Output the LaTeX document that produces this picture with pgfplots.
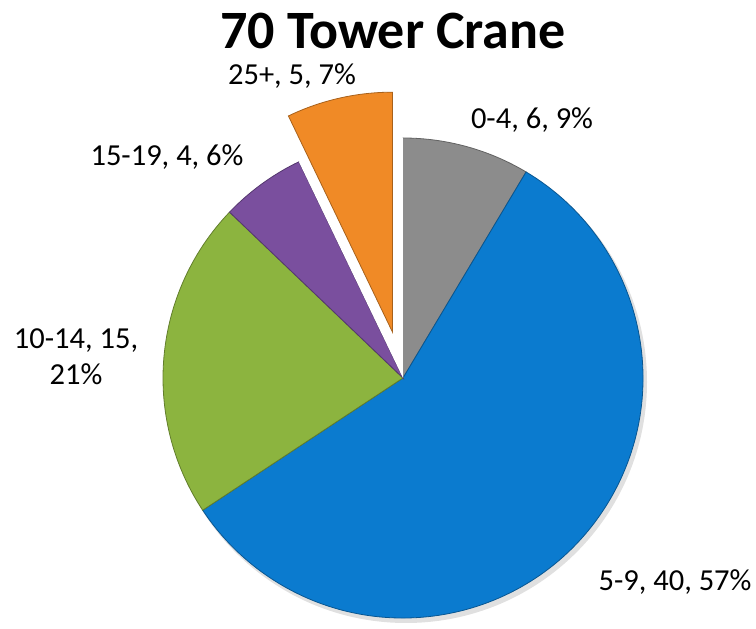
\documentclass[border=0pt]{standalone}
\usepackage{pgfplots}
\usepackage{pgfplotstable}
\pgfplotsset{compat=1.18}
\usepackage{fontspec}
\setmainfont{Carlito}
\definecolor{cGray}{HTML}{8C8C8C}
\definecolor{cBlue}{HTML}{0B7BCF}
\definecolor{cGreen}{HTML}{8CB43F}
\definecolor{cPurple}{HTML}{7A4F9E}
\definecolor{cOrange}{HTML}{F08A26}
\pgfplotstableread{
Label Value
a 6
b 40
c 15
d 4
e 5
}\piedata
\pgfplotstablegetelem{0}{Value}\of\piedata \let\vA\pgfplotsretval
\pgfplotstablegetelem{1}{Value}\of\piedata \let\vB\pgfplotsretval
\pgfplotstablegetelem{2}{Value}\of\piedata \let\vC\pgfplotsretval
\pgfplotstablegetelem{3}{Value}\of\piedata \let\vD\pgfplotsretval
\pgfplotstablegetelem{4}{Value}\of\piedata \let\vE\pgfplotsretval
\pgfmathsetmacro\tot{\vA+\vB+\vC+\vD+\vE}
\pgfmathsetmacro\aA{90}
\pgfmathsetmacro\aB{\aA-360*\vA/\tot}
\pgfmathsetmacro\aC{\aB-360*\vB/\tot}
\pgfmathsetmacro\aD{\aC-360*\vC/\tot}
\pgfmathsetmacro\aE{\aD-360*\vD/\tot}
\pgfmathsetmacro\aF{\aE-360*\vE/\tot}
\pgfmathsetmacro\mE{(\aE+\aF)/2}
\pgfmathsetmacro\dx{47*cos(\mE)}
\pgfmathsetmacro\dy{47*sin(\mE)}
\begin{document}%
\begin{tikzpicture}
\useasboundingbox (0,0) rectangle (756pt,629pt);
\begin{axis}[x=1pt,y=1pt,xmin=0,xmax=756,ymin=0,ymax=629,hide axis,clip=false,at={(0,0)},anchor=origin]
% shadow
\fill[black,opacity=0.12] (axis cs:406,247) circle[radius=241pt];
% wedges
\filldraw[fill=cGray,draw=cGray!70!black,line width=0.8pt] (axis cs:403,251) -- ++(\aA:240pt) arc[start angle=\aA,end angle=\aB,radius=240pt] -- cycle;
\filldraw[fill=cBlue,draw=cBlue!70!black,line width=0.8pt] (axis cs:403,251) -- ++(\aB:240pt) arc[start angle=\aB,end angle=\aC,radius=240pt] -- cycle;
\filldraw[fill=cGreen,draw=cGreen!70!black,line width=0.8pt] (axis cs:403,251) -- ++(\aC:240pt) arc[start angle=\aC,end angle=\aD,radius=240pt] -- cycle;
\filldraw[fill=cPurple,draw=cPurple!70!black,line width=0.8pt] (axis cs:403,251) -- ++(\aD:240pt) arc[start angle=\aD,end angle=\aE,radius=240pt] -- cycle;
\fill[white] (axis cs:403,251) -- ++(\aE:240pt) arc[start angle=\aE,end angle=\aF,radius=240pt] -- cycle;
\filldraw[fill=cOrange,draw=cOrange!70!black,line width=0.8pt,shift={(\dx pt,\dy pt)}] (axis cs:403,251) -- ++(\aE:240pt) arc[start angle=\aE,end angle=\aF,radius=240pt] -- cycle;
% title
\node[font=\fontsize{54}{64}\selectfont\bfseries] at (axis cs:393,598) {70 Tower Crane};
% labels
\begin{scope}[every node/.style={font=\fontsize{30.5}{36}\selectfont,align=center}]
\node at (axis cs:532,509) {0-4, 6, 9\%};
\node at (axis cs:675,47) {5-9, 40, 57\%};
\node at (axis cs:76,272) {10-14, 15,\\21\%};
\node at (axis cs:167,472) {15-19, 4, 6\%};
\node at (axis cs:292,553) {25+, 5, 7\%};
\end{scope}
\end{axis}
\end{tikzpicture}%
\end{document}
